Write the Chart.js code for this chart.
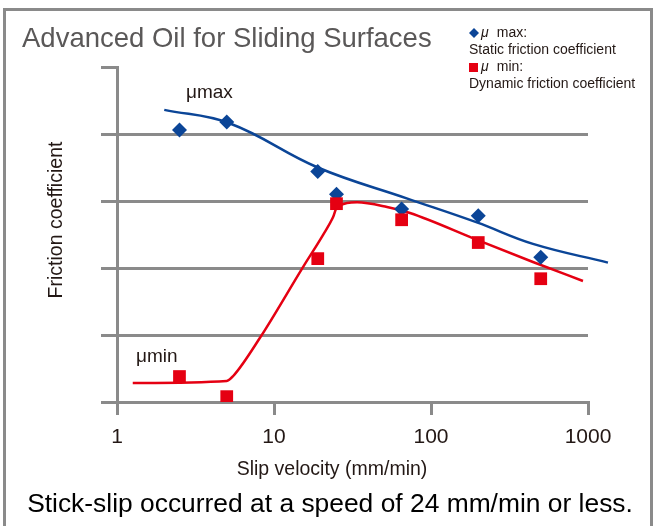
<!DOCTYPE html>
<html>
<head>
<meta charset="utf-8">
<script src="https://cdn.jsdelivr.net/npm/chart.js@4.4.1/dist/chart.umd.min.js"></script>
<style>
  html, body { margin: 0; padding: 0; background: #fff; }
  #wrap { width: 656px; height: 526px; position: relative; }
</style>
</head>
<body>
<div id="wrap"><canvas id="chart" width="656" height="526"></canvas></div>
<script>
// measured points (slip velocity, mm/min)
const speed = [2.5, 5, 19, 25, 65, 200, 500];
const muMax = [0.203, 0.209, 0.172, 0.155, 0.144, 0.139, 0.108];
const muMin = [0.019, 0.004, 0.107, 0.148, 0.136, 0.119, 0.092];

// trend curves as drawn on the original
const maxCurveX = [2, 5.2, 19, 70, 196, 446, 1340];
const maxCurveY = [0.218, 0.208, 0.175, 0.152, 0.134, 0.118, 0.104];
const minCurveX = [1.26, 5.0, 5.5, 8.2, 15.3, 20.5, 23.8, 25.2, 33.8, 52.5, 73.5, 196, 446, 929];
const minCurveY = [0.0142, 0.0157, 0.0194, 0.0485, 0.1007, 0.1246, 0.138, 0.1455, 0.149, 0.1455, 0.141, 0.121, 0.1045, 0.0903];

const xTicks = [1, 10, 100, 1000];

const BLUE = '#0b4597';
const RED = '#e50012';
const GRID = '#8a8a8a';
const INK = '#231815';
const FONT = "'Liberation Sans', Arial, sans-serif";

const pts = (xs, ys) => xs.map((x, i) => ({x: x, y: ys[i]}));

// frame, title, legend, notes
const decor = {
  id: 'decor',
  afterDraw(chart) {
    const ctx = chart.ctx;
    const {x, y} = chart.scales;
    ctx.save();

    ctx.strokeStyle = GRID;
    ctx.lineWidth = 3;
    ctx.strokeRect(4.5, 9.5, 647, 560);

    ctx.fillStyle = '#5a5858';
    ctx.font = '27.5px ' + FONT;
    ctx.textBaseline = 'middle';
    ctx.textAlign = 'left';
    ctx.fillText('Advanced Oil for Sliding Surfaces', 22, 39);

    // legend
    ctx.fillStyle = BLUE;
    ctx.beginPath();
    ctx.moveTo(469, 33); ctx.lineTo(474, 28); ctx.lineTo(479, 33); ctx.lineTo(474, 38);
    ctx.closePath(); ctx.fill();
    ctx.fillStyle = RED;
    ctx.fillRect(469, 63, 9, 9);

    ctx.fillStyle = INK;
    ctx.font = 'italic 14px ' + FONT;
    ctx.fillText('\u03bc', 481, 33);
    ctx.fillText('\u03bc', 481, 67);
    ctx.font = '14px ' + FONT;
    ctx.fillText('  max:', 489, 33);
    ctx.fillText('Static friction coefficient', 469, 50);
    ctx.fillText('  min:', 489, 67);
    ctx.fillText('Dynamic friction coefficient', 469, 84);

    // curve labels
    ctx.font = '19px ' + FONT;
    ctx.fillText('\u03bcmax', x.getPixelForValue(2.75), y.getPixelForValue(0.2306));
    ctx.fillText('\u03bcmin', x.getPixelForValue(1.32), y.getPixelForValue(0.0336));

    // axis titles
    ctx.textAlign = 'center';
    ctx.font = '19.5px ' + FONT;
    ctx.fillText('Slip velocity (mm/min)', 332, 470);
    ctx.save();
    ctx.translate(57, 220);
    ctx.rotate(-Math.PI / 2);
    ctx.fillText('Friction coefficient', 0, 0);
    ctx.restore();

    ctx.fillStyle = '#000';
    ctx.font = '26.4px ' + FONT;
    ctx.fillText('Stick-slip occurred at a speed of 24 mm/min or less.', 330, 505);
    ctx.restore();
  }
};

new Chart(document.getElementById('chart'), {
  type: 'scatter',
  data: {
    datasets: [
      {
        label: '\u03bc min',
        data: pts(speed, muMin),
        pointStyle: 'rect',
        pointRadius: 9,
        pointHoverRadius: 9,
        backgroundColor: RED,
        borderWidth: 0
      },
      {
        label: '\u03bc max',
        data: pts(speed, muMax),
        pointStyle: 'rectRot',
        pointRadius: 7.5,
        pointHoverRadius: 7.5,
        backgroundColor: BLUE,
        borderWidth: 0
      },
      {
        label: 'min curve',
        data: pts(minCurveX, minCurveY),
        showLine: true,
        pointRadius: 0,
        borderColor: RED,
        borderWidth: 2.5,
        cubicInterpolationMode: 'monotone',
        clip: false
      },
      {
        label: 'max curve',
        data: pts(maxCurveX, maxCurveY),
        showLine: true,
        pointRadius: 0,
        borderColor: BLUE,
        borderWidth: 2.5,
        tension: 0.4,
        clip: false
      }
    ]
  },
  options: {
    responsive: false,
    animation: false,
    layout: { padding: { top: 67, right: 68, left: 0, bottom: 0 } },
    plugins: {
      legend: { display: false },
      tooltip: { enabled: false }
    },
    scales: {
      x: {
        type: 'logarithmic',
        min: 1,
        max: 1000,
        afterBuildTicks: s => { s.ticks = xTicks.map(v => ({value: v})); },
        afterFit: s => { s.height = 124; },
        ticks: {
          callback: v => String(v),
          autoSkip: false,
          maxRotation: 0,
          padding: 10,
          color: INK,
          font: { family: FONT, size: 21 }
        },
        grid: { drawOnChartArea: false, drawTicks: true, tickLength: 13, tickColor: GRID, lineWidth: 3 },
        border: { display: true, color: GRID, width: 3 }
      },
      y: {
        min: 0,
        max: 0.25,
        afterFit: s => { s.width = 117; },
        ticks: { stepSize: 0.05, display: false },
        grid: {
          color: c => (c.tick && c.tick.value >= 0.25 ? 'rgba(0,0,0,0)' : GRID),
          tickColor: GRID,
          lineWidth: 3,
          tickLength: 16
        },
        border: { display: true, color: GRID, width: 3 }
      }
    }
  },
  plugins: [decor]
});
</script>
</body>
</html>
